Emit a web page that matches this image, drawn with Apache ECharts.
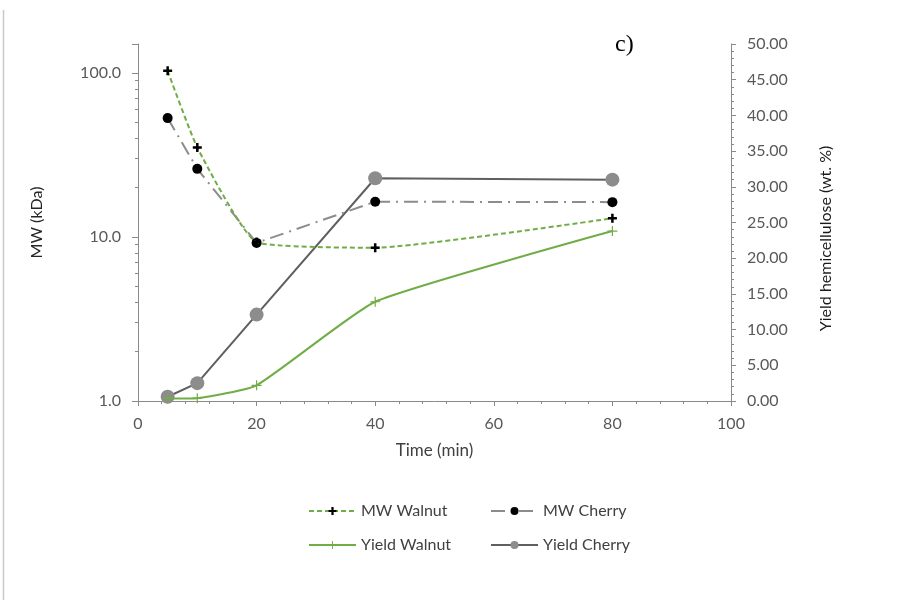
<!DOCTYPE html>
<html>
<head>
<meta charset="utf-8">
<script src="https://cdn.jsdelivr.net/npm/echarts@6/dist/echarts.min.js"></script>
<style>
  html, body { margin: 0; padding: 0; background: #fff; }
  #chart { width: 913px; height: 612px; }
</style>
</head>
<body>
<div id="chart"></div>
<script>
// Reaction time (min)
const times = [5, 10, 20, 40, 80];
// Molecular weight (kDa), left log axis
const mwWalnut = [103, 35.1, 9.3, 8.6, 13.0];
const mwCherry = [53.0, 26.0, 9.2, 16.4, 16.3];
// Hemicellulose yield (wt. %), right axis
const yieldWalnut = [0.35, 0.4, 2.2, 13.9, 23.8];
const yieldCherry = [0.6, 2.5, 12.1, 31.2, 31.0];
// Log-axis tick positions
const logMajor = [1, 10, 100, 150];
const logLabels = [1, 10, 100];
const logMinor = [2, 3, 4, 5, 6, 7, 8, 9, 20, 30, 40, 50, 60, 70, 80, 90];

const pairs = (ys) => times.map((t, i) => [t, ys[i]]);

const FONT = 'Lato';
const AXIS_COLOR = '#8a8a8a';
const LABEL_COLOR = '#595959';
const GREEN = '#70AD47';

const plusBold = 'path://M3.6,0H6.4V3.6H10V6.4H6.4V10H3.6V6.4H0V3.6H3.6Z';
const plusThin = 'path://M4.4,0H5.6V4.4H10V5.6H5.6V10H4.4V5.6H0V4.4H4.4Z';

const chart = echarts.init(document.getElementById('chart'), null, { renderer: 'canvas' });

const legendBase = {
  itemWidth: 47, itemHeight: 10, itemGap: 6,
  textStyle: { fontFamily: FONT, fontSize: 16, color: '#404040', padding: [0, 0, 0, 0] },
  selectedMode: false
};

chart.setOption({
  animation: false,
  backgroundColor: '#ffffff',
  textStyle: { fontFamily: FONT },
  grid: { left: 138, right: 182, top: 44, bottom: 211, containLabel: false },
  legend: [
    Object.assign({ data: ['MW Walnut'], left: 303, top: 498 }, legendBase),
    Object.assign({ data: ['MW Cherry'], left: 485, top: 498 }, legendBase),
    Object.assign({ data: ['Yield Walnut'], left: 303, top: 532 }, legendBase),
    Object.assign({ data: ['Yield Cherry'], left: 485, top: 532 }, legendBase)
  ],
  xAxis: {
    type: 'value', min: 0, max: 100, interval: 20,
    name: 'Time (min)', nameLocation: 'middle', nameGap: 41,
    nameTextStyle: { fontFamily: FONT, fontSize: 17, color: '#404040' },
    axisLine: { lineStyle: { color: AXIS_COLOR, width: 1 } },
    axisTick: { show: true, length: 5, lineStyle: { color: AXIS_COLOR } },
    minorTick: { show: true, splitNumber: 5, length: 3, lineStyle: { color: AXIS_COLOR } },
    axisLabel: { fontFamily: FONT, fontSize: 16, color: LABEL_COLOR, margin: 15 },
    splitLine: { show: false }
  },
  yAxis: [
    {
      type: 'log', logBase: 10, min: 1, max: 150, position: 'left',
      name: 'MW (kDa)', nameLocation: 'middle', nameGap: 93, nameRotate: 90,
      nameTextStyle: { fontFamily: FONT, fontSize: 16, color: '#262626' },
      axisLine: { show: true, lineStyle: { color: AXIS_COLOR, width: 1 } },
      axisTick: { show: true, length: 6, customValues: logMajor, lineStyle: { color: AXIS_COLOR } },
      axisLabel: {
        fontFamily: FONT, fontSize: 16, color: LABEL_COLOR, margin: 17,
        customValues: logLabels,
        formatter: (v) => Number(v).toFixed(1)
      },
      splitLine: { show: false }
    },
    {
      type: 'value', min: 0, max: 50, interval: 5, position: 'right',
      name: 'Yield hemicellulose (wt. %)', nameLocation: 'middle', nameGap: 87, nameRotate: 90,
      nameTextStyle: { fontFamily: FONT, fontSize: 16, color: '#1a1a1a', padding: [0, 32, 0, 0] },
      axisLine: { show: true, lineStyle: { color: AXIS_COLOR, width: 1 } },
      axisTick: { show: true, length: 5, lineStyle: { color: AXIS_COLOR } },
      minorTick: { show: true, splitNumber: 5, length: 3, lineStyle: { color: AXIS_COLOR } },
      axisLabel: {
        fontFamily: FONT, fontSize: 16, color: LABEL_COLOR, margin: 16,
        formatter: (v) => Number(v).toFixed(2)
      },
      splitLine: { show: false }
    },
    {
      // minor ticks of the logarithmic MW axis
      type: 'log', logBase: 10, min: 1, max: 150, position: 'left',
      axisLine: { show: false },
      axisTick: { show: true, length: 3, customValues: logMinor, lineStyle: { color: AXIS_COLOR } },
      axisLabel: { show: false },
      splitLine: { show: false }
    }
  ],
  series: [
    {
      name: 'MW Walnut', type: 'line', yAxisIndex: 0, data: pairs(mwWalnut),
      smooth: 0.15, z: 4,
      lineStyle: { color: GREEN, width: 2, type: [5, 3] },
      symbol: plusBold, symbolSize: 9,
      itemStyle: { color: '#000000', borderWidth: 0 }
    },
    {
      name: 'MW Cherry', type: 'line', yAxisIndex: 0, data: pairs(mwCherry),
      z: 3,
      lineStyle: { color: '#8c8c8c', width: 2, type: [14, 6, 2, 6] },
      symbol: 'circle', symbolSize: 10,
      itemStyle: { color: '#000000', borderWidth: 0 }
    },
    {
      name: 'Yield Walnut', type: 'line', yAxisIndex: 1, data: pairs(yieldWalnut),
      smooth: 0.15, z: 2,
      lineStyle: { color: GREEN, width: 2, type: 'solid' },
      symbol: plusThin, symbolSize: 10,
      itemStyle: { color: GREEN, borderWidth: 0 }
    },
    {
      name: 'Yield Cherry', type: 'line', yAxisIndex: 1, data: pairs(yieldCherry),
      z: 1,
      lineStyle: { color: '#5f5f5f', width: 2, type: 'solid' },
      symbol: 'circle', symbolSize: 14,
      itemStyle: { color: '#8c8c8c', borderWidth: 0 }
    }
  ],
  graphic: [
    {
      type: 'text', left: 615, top: 33,
      style: { text: 'c)', fontFamily: '"Liberation Serif", "DejaVu Serif", serif', fontSize: 24, fill: '#000000' }
    },
    {
      type: 'line', shape: { x1: 3.5, y1: 10, x2: 3.5, y2: 600 },
      style: { stroke: '#c8c8c8', lineWidth: 1.5 }
    }
  ]
});
</script>
</body>
</html>
